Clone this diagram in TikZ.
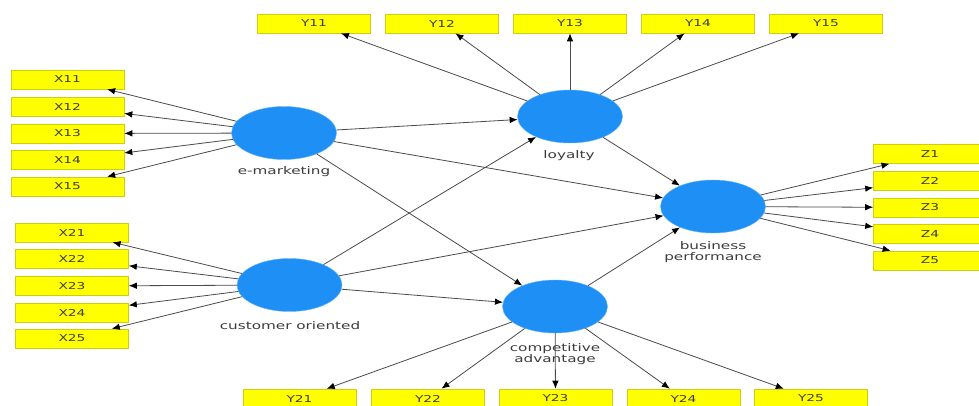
\documentclass[tikz,border=0pt]{standalone}
\usepackage{fontspec}
\usetikzlibrary{shapes.geometric,arrows.meta}
\newfontfamily\lblfont[FakeStretch=1.45]{DejaVu Sans}
\definecolor{boxfill}{RGB}{255,255,0}
\definecolor{boxline}{RGB}{205,205,20}
\definecolor{latent}{RGB}{30,144,245}
\definecolor{txt}{RGB}{60,60,60}
\definecolor{edge}{RGB}{75,75,75}
\tikzset{
  ind/.style={draw=boxline, fill=boxfill, line width=0.6pt, minimum width=113pt, minimum height=19pt, inner sep=0pt,
    font=\lblfont\fontsize{9.5}{10}\selectfont, text=txt},
  lat/.style={ellipse, fill=latent, draw=latent!70!white, line width=0.4pt, minimum width=105pt, minimum height=53pt, inner sep=0pt},
  latlbl/.style={font=\lblfont\fontsize{10.5}{11}\selectfont, text=txt, align=center, inner sep=0pt},
  arr/.style={draw=edge, line width=0.8pt, -{Latex[length=8pt,width=6.5pt,color=black]}}
}
\begin{document}
\begin{tikzpicture}[x=1pt,y=-1pt]
\useasboundingbox[fill=white] (0,0) rectangle (979,405);
\clip (0,0) rectangle (979,405);
% indicator boxes X1
\node[ind] (x11) at (67.5,79.5) {X11};
\node[ind] (x12) at (67.5,106.5) {X12};
\node[ind] (x13) at (67.5,133.5) {X13};
\node[ind] (x14) at (67.5,160) {X14};
\node[ind] (x15) at (67.5,186.5) {X15};
% X2
\node[ind] (x21) at (72,232.5) {X21};
\node[ind] (x22) at (72,259) {X22};
\node[ind] (x23) at (72,286) {X23};
\node[ind] (x24) at (72,312.5) {X24};
\node[ind] (x25) at (72,338.5) {X25};
% Y1
\node[ind] (y11) at (314,23.5) {Y11};
\node[ind] (y12) at (442,23.5) {Y12};
\node[ind] (y13) at (570,23.5) {Y13};
\node[ind] (y14) at (698,23.5) {Y14};
\node[ind] (y15) at (826,23.5) {Y15};
% Y2
\node[ind] (y21) at (299.5,398.5) {Y21};
\node[ind] (y22) at (428,398.5) {Y22};
\node[ind] (y23) at (555.5,398.5) {Y23};
\node[ind] (y24) at (683.5,398.5) {Y24};
\node[ind] (y25) at (811,398.5) {Y25};
% Z
\node[ind] (z1) at (930,154) {Z1};
\node[ind] (z2) at (930,181) {Z2};
\node[ind] (z3) at (930,207.5) {Z3};
\node[ind] (z4) at (930,234) {Z4};
\node[ind] (z5) at (930,260.5) {Z5};
% latent variables
\node[lat] (em) at (284,133) {};
\node[lat] (co) at (289.5,285) {};
\node[lat] (loy) at (570,116.5) {};
\node[lat] (bp) at (713,206.5) {};
\node[lat] (ca) at (555,306.5) {};
% labels
\node[latlbl] (eml) at (284,172) {e-marketing};
\node[latlbl] (col) at (290,326) {customer oriented};
\node[latlbl] (loyl) at (569,156) {loyalty};
\node[latlbl] (bpl) at (713,252.5) {business\\performance};
\node[latlbl] (cal) at (555,354) {competitive\\advantage};
% reflective arrows
\foreach \t in {x11,x12,x13,x14,x15} \draw[arr] (em) -- (\t);
\foreach \t in {x21,x22,x23,x24,x25} \draw[arr] (co) -- (\t);
\foreach \t in {y11,y12,y13,y14,y15} \draw[arr] (loy) -- (\t);
\foreach \t in {y21,y22,y23,y24,y25} \draw[arr] (ca) -- (\t);
\foreach \t in {z1,z2,z3,z4,z5} \draw[arr] (bp) -- (\t);
% structural paths
\draw[arr] (em) -- (loy);
\draw[arr] (em) -- (bp);
\draw[arr] (em) -- (ca);
\draw[arr] (co) -- (loy);
\draw[arr] (co) -- (bp);
\draw[arr] (co) -- (ca);
\draw[arr] (loy) -- (bp);
\draw[arr] (ca) -- (bp);
\end{tikzpicture}
\end{document}
